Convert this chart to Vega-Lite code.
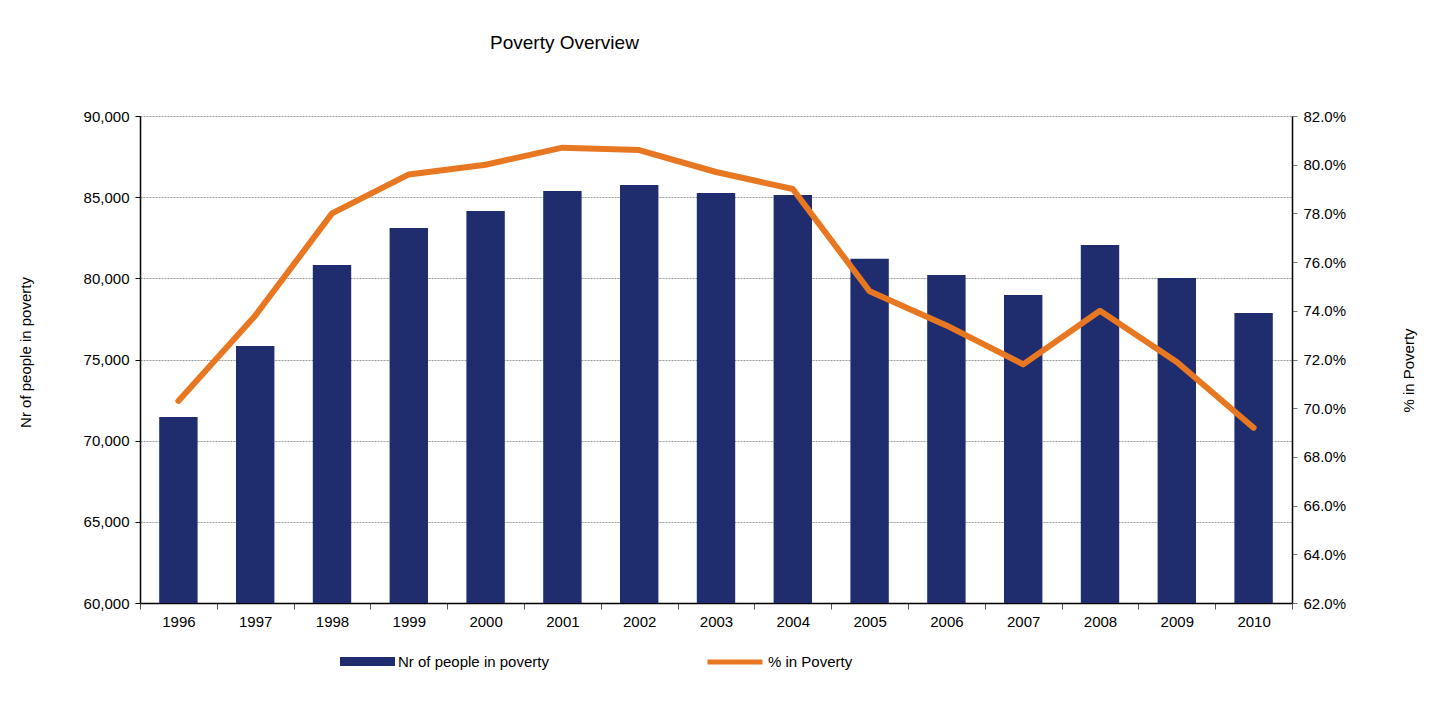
{
  "$schema": "https://vega.github.io/schema/vega-lite/v6.json",
  "width": 1152,
  "height": 487,
  "autosize": "none",
  "padding": {"left": 140, "top": 116, "right": 149, "bottom": 104},
  "background": "white",
  "title": {
    "text": "Poverty Overview",
    "anchor": "start",
    "frame": "group",
    "dx": 350,
    "offset": 56,
    "fontSize": 19,
    "fontWeight": "normal",
    "font": "Liberation Sans",
    "color": "#000000"
  },
  "config": {
    "font": "Liberation Sans",
    "view": {"stroke": null},
    "axis": {"labelFont": "Liberation Sans", "titleFont": "Liberation Sans", "labelColor": "#000", "titleColor": "#000", "titleFontWeight": "normal"},
    "legend": {"labelFont": "Liberation Sans", "labelColor": "#000", "labelFontSize": 15, "padding": 0}
  },
  "data": {
    "values": [
      {"year": "1996", "people": 71460, "pct": 0.703},
      {"year": "1997", "people": 75830, "pct": 0.738},
      {"year": "1998", "people": 80820, "pct": 0.780},
      {"year": "1999", "people": 83100, "pct": 0.796},
      {"year": "2000", "people": 84150, "pct": 0.800},
      {"year": "2001", "people": 85380, "pct": 0.807},
      {"year": "2002", "people": 85750, "pct": 0.806},
      {"year": "2003", "people": 85260, "pct": 0.797},
      {"year": "2004", "people": 85140, "pct": 0.790},
      {"year": "2005", "people": 81200, "pct": 0.748},
      {"year": "2006", "people": 80210, "pct": 0.734},
      {"year": "2007", "people": 78980, "pct": 0.718},
      {"year": "2008", "people": 82060, "pct": 0.740},
      {"year": "2009", "people": 80020, "pct": 0.719},
      {"year": "2010", "people": 77870, "pct": 0.692}
    ]
  },
  "encoding": {
    "x": {
      "field": "year",
      "type": "ordinal",
      "scale": {"paddingInner": 0, "paddingOuter": 0},
      "axis": {
        "title": null,
        "labelAngle": 0,
        "labelFontSize": 15,
        "labelPadding": 5,
        "domainColor": "#000",
        "domainWidth": 1.5,
        "tickBand": "extent",
        "tickColor": "#555",
        "tickSize": 6,
        "grid": false
      }
    }
  },
  "layer": [
    {
      "mark": {"type": "bar", "clip": true, "width": {"band": 0.5}},
      "encoding": {
        "y": {
          "field": "people",
          "type": "quantitative",
          "scale": {"domain": [60000, 90000], "zero": false, "nice": false},
          "axis": {
            "title": "Nr of people in poverty",
            "titleFontSize": 15,
            "titleAngle": -90,
            "titleX": -115,
            "titleY": 236,
            "titleAlign": "center",
            "titleBaseline": "middle",
            "values": [60000, 65000, 70000, 75000, 80000, 85000, 90000],
            "format": ",d",
            "labelFontSize": 15,
            "labelPadding": 6,
            "tickSize": 5,
            "tickColor": "#000",
            "domainColor": "#000",
            "domainWidth": 1.5,
            "grid": true,
            "gridColor": "#9a9a9a",
            "gridDash": [2, 1],
            "gridWidth": 1
          }
        },
        "fill": {
          "datum": "Nr of people in poverty",
          "scale": {"range": ["#1F2D6E"]},
          "legend": {
            "title": null,
            "orient": "none",
            "legendX": 200,
            "legendY": 518,
            "symbolType": "M-1,-0.16H1V0.16H-1Z",
            "symbolSize": 3025,
            "symbolStrokeWidth": 0,
            "symbolOpacity": 1,
            "labelOffset": 3
          }
        }
      }
    },
    {
      "mark": {"type": "line", "strokeWidth": 6, "strokeCap": "round", "strokeJoin": "round"},
      "encoding": {
        "y": {
          "field": "pct",
          "type": "quantitative",
          "scale": {"domain": [0.62, 0.82], "zero": false, "nice": false},
          "axis": {
            "orient": "right",
            "title": "% in Poverty",
            "titleFontSize": 15,
            "titleAngle": -90,
            "titleX": 116,
            "titleY": 254,
            "titleAlign": "center",
            "titleBaseline": "middle",
            "values": [0.62, 0.64, 0.66, 0.68, 0.70, 0.72, 0.74, 0.76, 0.78, 0.80, 0.82],
            "format": ".1%",
            "labelFontSize": 15,
            "labelPadding": 6,
            "tickSize": 5,
            "tickColor": "#777",
            "domainColor": "#000",
            "domainWidth": 1.5,
            "grid": false
          }
        },
        "stroke": {
          "datum": "% in Poverty",
          "scale": {"range": ["#E87722"]},
          "legend": {
            "title": null,
            "orient": "none",
            "legendX": 565,
            "legendY": 516,
            "symbolType": "stroke",
            "symbolSize": 3025,
            "symbolStrokeWidth": 5,
            "labelOffset": 3
          }
        }
      }
    }
  ],
  "resolve": {"scale": {"y": "independent"}}
}
